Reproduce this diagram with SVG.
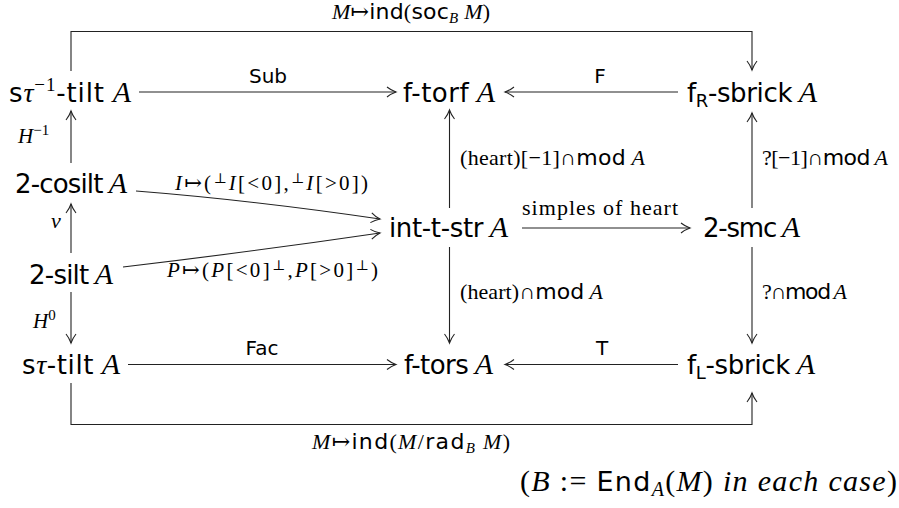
<svg xmlns="http://www.w3.org/2000/svg" width="899" height="508" viewBox="0 0 899 508">
<style>
text{fill:#000;font-family:"DejaVu Sans",sans-serif}
.n{font-size:26px}
.e{font-size:20px}
.l{font-size:22px}
.m{font-family:"Liberation Serif",serif;font-style:italic}
.r{font-family:"Liberation Serif","DejaVu Serif",serif;font-style:normal}
.s{font-family:"DejaVu Sans",sans-serif;font-style:normal}
.c{fill:none;stroke:#222;stroke-width:1.1}
</style>
<defs>
<marker id="ah" viewBox="-11 -7 13 14" refX="0" refY="0" markerWidth="13" markerHeight="14" markerUnits="userSpaceOnUse" orient="auto">
<path d="M-9,-5 C-5.5,-2.2 -2,-0.7 0,0 C-2,0.7 -5.5,2.2 -9,5" fill="none" stroke="#222" stroke-width="1.1"/>
</marker>
</defs>
<g id="connectors">
<path class="c" d="M71,71 V31.5 H752 V70" marker-end="url(#ah)"/>
<path class="c" d="M71,383 V424.5 H752 V393" marker-end="url(#ah)"/>
<path class="c" d="M139,92 H396" marker-end="url(#ah)"/>
<path class="c" d="M678,92 H505" marker-end="url(#ah)"/>
<path class="c" d="M128,364.5 H396" marker-end="url(#ah)"/>
<path class="c" d="M678,364.5 H505" marker-end="url(#ah)"/>
<path class="c" d="M71,163 V111" marker-end="url(#ah)"/>
<path class="c" d="M71,253 V204" marker-end="url(#ah)"/>
<path class="c" d="M71,292 V343" marker-end="url(#ah)"/>
<path class="c" d="M449.5,208 V110" marker-end="url(#ah)"/>
<path class="c" d="M449.5,247 V343" marker-end="url(#ah)"/>
<path class="c" d="M752,208 V113" marker-end="url(#ah)"/>
<path class="c" d="M752,247 V343" marker-end="url(#ah)"/>
<path class="c" d="M522,228 H690" marker-end="url(#ah)"/>
<path class="c" d="M136,191 Q250,200 380,219" marker-end="url(#ah)"/>
<path class="c" d="M123,267 Q250,252 380,233" marker-end="url(#ah)"/>
</g>
<g id="labels">
<text class="l" x="332" y="19" textLength="158"><tspan class="m">M</tspan><tspan class="r">↦</tspan><tspan class="s">ind</tspan><tspan class="r">(</tspan><tspan class="s">soc</tspan><tspan class="m" font-size="15" dy="4">B</tspan><tspan class="m" dy="-4"> M</tspan><tspan class="r">)</tspan></text>
<text class="l" x="312" y="449" textLength="198"><tspan class="m">M</tspan><tspan class="r">↦</tspan><tspan class="s">ind</tspan><tspan class="r">(</tspan><tspan class="m">M</tspan><tspan class="r">/</tspan><tspan class="s">rad</tspan><tspan class="m" font-size="15" dy="4">B</tspan><tspan class="m" dy="-4"> M</tspan><tspan class="r">)</tspan></text>
<text class="e" x="268" y="83" text-anchor="middle">Sub</text>
<text class="e" x="600" y="83" text-anchor="middle">F</text>
<text class="e" x="262" y="355" text-anchor="middle">Fac</text>
<text class="e" x="602" y="355" text-anchor="middle">T</text>
<text class="r" font-size="22" x="522" y="215" textLength="156">simples of heart</text>
<text class="l" x="460" y="165" textLength="185"><tspan class="r">(heart)[−1]∩</tspan><tspan class="s">mod</tspan><tspan class="m"> A</tspan></text>
<text class="l" x="762" y="165" textLength="126"><tspan class="r">?[−1]∩</tspan><tspan class="s">mod</tspan><tspan class="m"> A</tspan></text>
<text class="l" x="460" y="299" textLength="143"><tspan class="r">(heart)∩</tspan><tspan class="s">mod</tspan><tspan class="m"> A</tspan></text>
<text class="l" x="762" y="299" textLength="85"><tspan class="r">?∩</tspan><tspan class="s">mod</tspan><tspan class="m"> A</tspan></text>
<text font-size="21" x="175" y="190" textLength="193"><tspan class="m">I</tspan><tspan class="r">↦(</tspan><tspan class="r" font-size="14" dy="-7">⊥</tspan><tspan class="m" dy="7">I</tspan><tspan class="r">[&lt;0],</tspan><tspan class="r" font-size="14" dy="-7">⊥</tspan><tspan class="m" dy="7">I</tspan><tspan class="r">[&gt;0])</tspan></text>
<text font-size="21" x="167" y="277" textLength="211"><tspan class="m">P</tspan><tspan class="r">↦(</tspan><tspan class="m">P</tspan><tspan class="r">[&lt;0]</tspan><tspan class="r" font-size="14" dy="-7">⊥</tspan><tspan class="r" dy="7">,</tspan><tspan class="m">P</tspan><tspan class="r">[&gt;0]</tspan><tspan class="r" font-size="14" dy="-7">⊥</tspan><tspan class="r" dy="7">)</tspan></text>
<text font-size="21" x="18" y="143"><tspan class="m">H</tspan><tspan class="r" font-size="15" dy="-8">−1</tspan></text>
<text font-size="22" class="m" x="51" y="228">ν</text>
<text font-size="21" x="33" y="328"><tspan class="m">H</tspan><tspan class="r" font-size="15" dy="-8">0</tspan></text>
<text font-size="30" x="520" y="491" textLength="377"><tspan class="r">(</tspan><tspan class="m">B</tspan><tspan class="r"> := </tspan><tspan class="s" font-size="27">End</tspan><tspan class="m" font-size="20" dy="5">A</tspan><tspan class="r" dy="-5">(</tspan><tspan class="m">M</tspan><tspan class="r">)</tspan><tspan class="m">  in each case</tspan><tspan class="r">)</tspan></text>
</g>
<g id="n1"><text class="n" x="9" y="102" textLength="122"><tspan>s</tspan><tspan class="m" font-size="28">τ</tspan><tspan class="r" font-size="19" dy="-11">−1</tspan><tspan dy="11">-tilt</tspan><tspan class="m" font-size="30"> A</tspan></text></g>
<g id="n2"><text class="n" x="403" y="102" textLength="92">f-torf<tspan class="m" font-size="30"> A</tspan></text></g>
<g id="n3"><text class="n" x="687" y="102" textLength="130">f<tspan font-size="18" dy="5">R</tspan><tspan dy="-5">-sbrick</tspan><tspan class="m" font-size="30"> A</tspan></text></g>
<g id="n4"><text class="n" x="15" y="193" textLength="112">2-cosilt<tspan class="m" font-size="30"> A</tspan></text></g>
<g id="n5"><text class="n" x="389" y="237" textLength="119">int-t-str<tspan class="m" font-size="30"> A</tspan></text></g>
<g id="n6"><text class="n" x="703" y="237" textLength="97">2-smc<tspan class="m" font-size="30"> A</tspan></text></g>
<g id="n7"><text class="n" x="29" y="284" textLength="84">2-silt<tspan class="m" font-size="30"> A</tspan></text></g>
<g id="n8"><text class="n" x="22" y="374" textLength="98">s<tspan class="m" font-size="28">τ</tspan><tspan>-tilt</tspan><tspan class="m" font-size="30"> A</tspan></text></g>
<g id="n9"><text class="n" x="404" y="374" textLength="89">f-tors<tspan class="m" font-size="30"> A</tspan></text></g>
<g id="n10"><text class="n" x="687" y="374" textLength="128">f<tspan font-size="18" dy="5">L</tspan><tspan dy="-5">-sbrick</tspan><tspan class="m" font-size="30"> A</tspan></text></g>
</svg>
